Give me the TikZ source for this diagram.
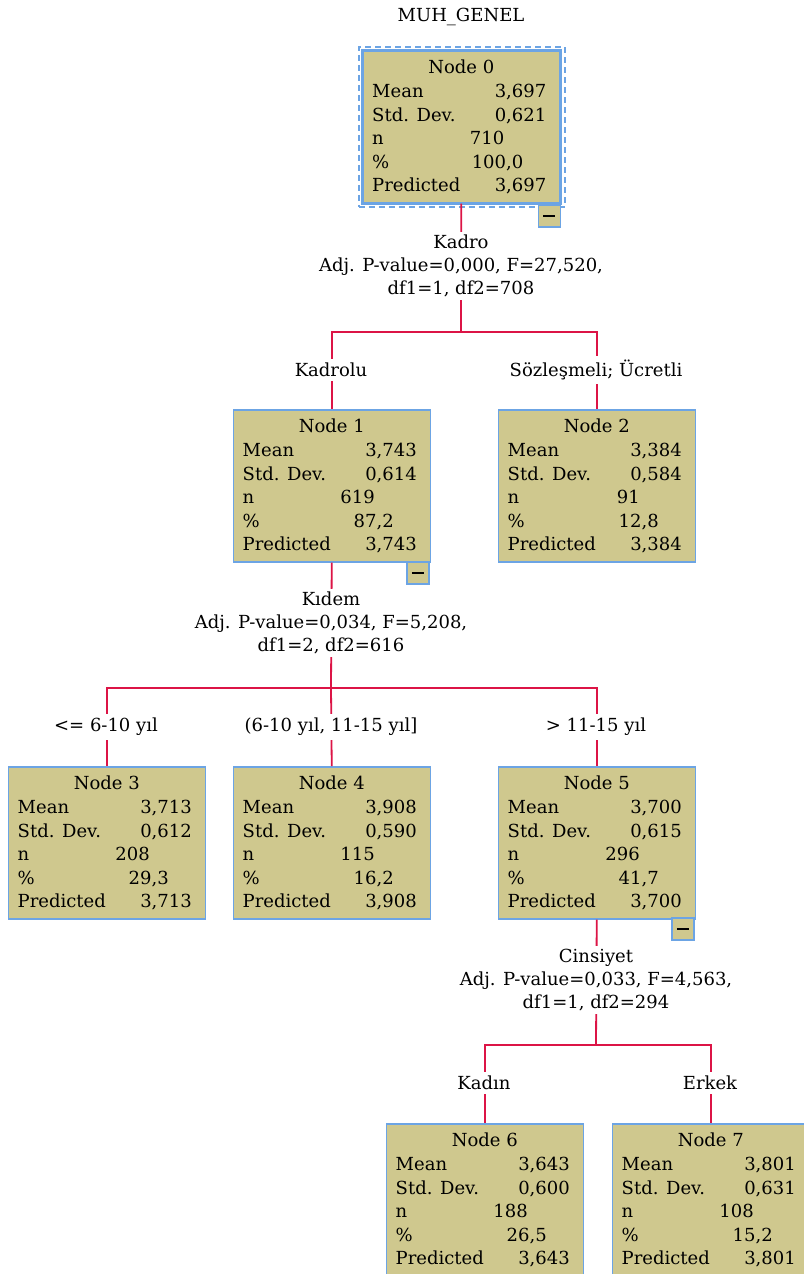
\documentclass[tikz,border=0pt]{standalone}
\usepackage{fontspec}
\setmainfont{DejaVu Serif}
\usetikzlibrary{calc}
\definecolor{nodefill}{RGB}{207,200,142}
\definecolor{nodeblue}{RGB}{108,164,228}
\definecolor{connred}{RGB}{220,20,70}
\tikzset{
  txt/.style={inner sep=0pt, font=\fontsize{18}{23}\selectfont},
  nbox/.style={draw=nodeblue, fill=nodefill, line width=1.5pt, minimum width=197pt, minimum height=152pt, inner sep=0pt, anchor=north west},
  minusbox/.style={draw=nodeblue, fill=nodefill, line width=1.5pt, minimum width=22pt, minimum height=22pt, inner sep=0pt, anchor=north east},
  conn/.style={draw=connred, line width=1.8pt},
  lbl/.style={txt, fill=white, inner xsep=2pt, inner ysep=3pt, align=center},
  blbl/.style={txt, fill=white, inner xsep=2pt, inner ysep=4pt}
}
\newcommand\spssnode[9]{%
  \node[nbox] (#1) at (#2,#3) {};
  \node[txt, anchor=base] (#1t) at ($(#1.north)+(0,23)$) {#4};
  \node[txt, anchor=base west] (#1la) at ($(#1.north west)+(10,47.5)$) {Mean};
  \node[txt, anchor=base west] (#1lb) at ($(#1.north west)+(10,71)$) {Std. Dev.};
  \node[txt, anchor=base west] (#1lc) at ($(#1.north west)+(10,94.5)$) {n};
  \node[txt, anchor=base west] (#1ld) at ($(#1.north west)+(10,118)$) {\%};
  \node[txt, anchor=base west] (#1le) at ($(#1.north west)+(10,141)$) {Predicted};
  \node[txt, anchor=base east] (#1va) at ($(#1.north east)+(-14,47.5)$) {#5};
  \node[txt, anchor=base east] (#1vb) at ($(#1.north east)+(-14,71)$) {#6};
  \node[txt, anchor=base east] (#1vc) at ($(#1.north east)+(-56,94.5)$) {#7};
  \node[txt, anchor=base east] (#1vd) at ($(#1.north east)+(-37,118)$) {#8};
  \node[txt, anchor=base east] (#1ve) at ($(#1.north east)+(-14,141)$) {#9};
}
\newcommand\minusmark[2]{%
  \node[minusbox] (#1) at (#2) {};
  \draw[line width=2pt, black] ($(#1.center)+(-6,0)$) -- ($(#1.center)+(6,0)$);
}
\begin{document}
\begin{tikzpicture}[x=1pt,y=-1pt]
\useasboundingbox[fill=white] (0,0) rectangle (803,1274);

% title
\node[txt, anchor=base] (title) at (461,21) {MUH\_GENEL};

% connector junctions
\coordinate (j0) at (461,332);
\coordinate (j1) at (331,688);
\coordinate (j5) at (596,1045);

% nodes
\node[draw=nodeblue, dash pattern=on 6pt off 4pt, line width=1.5pt, minimum width=206pt, minimum height=160pt, anchor=north west] (sel) at (358,46) {};
\spssnode{n0}{362}{50}{Node 0}{3,697}{0,621}{710}{100,0}{3,697}
\draw[nodeblue, line width=3pt] (n0.north west) rectangle (n0.south east);
\spssnode{n1}{232.5}{409}{Node 1}{3,743}{0,614}{619}{87,2}{3,743}
\spssnode{n2}{497.5}{409}{Node 2}{3,384}{0,584}{91}{12,8}{3,384}
\spssnode{n3}{7.5}{766}{Node 3}{3,713}{0,612}{208}{29,3}{3,713}
\spssnode{n4}{232.5}{766}{Node 4}{3,908}{0,590}{115}{16,2}{3,908}
\spssnode{n5}{497.5}{766}{Node 5}{3,700}{0,615}{296}{41,7}{3,700}
\spssnode{n6}{385.5}{1123}{Node 6}{3,643}{0,600}{188}{26,5}{3,643}
\spssnode{n7}{611.5}{1123}{Node 7}{3,801}{0,631}{108}{15,2}{3,801}

% collapse markers
\minusmark{m0}{561,204}
\minusmark{m1}{429.5,561}
\minusmark{m5}{694.5,917}

% connectors
\draw[conn] (n0.south) -- (j0);
\draw[conn] (j0) -| (n1.north);
\draw[conn] (j0) -| (n2.north);
\draw[conn] (n1.south) -- (j1);
\draw[conn] (j1) -| (n3.north);
\draw[conn] (j1) -- (n4.north);
\draw[conn] (j1) -| (n5.north);
\draw[conn] (n5.south) -- (j5);
\draw[conn] (j5) -| (n6.north);
\draw[conn] (j5) -| (n7.north);

% split labels
\node[lbl] (s0) at (461,266) {Kadro\\Adj. P-value=0,000, F=27,520,\\df1=1, df2=708};
\node[lbl] (s1) at (331,623) {Kıdem\\Adj. P-value=0,034, F=5,208,\\df1=2, df2=616};
\node[lbl] (s5) at (596,980) {Cinsiyet\\Adj. P-value=0,033, F=4,563,\\df1=1, df2=294};

% branch labels
\node[blbl] (b1) at (331,370) {Kadrolu};
\node[blbl] (b2) at (596,370) {Sözleşmeli; Ücretli};
\node[blbl] (b3) at (106,727) {<= 6-10 yıl};
\node[blbl] (b4) at (331,727) {(6-10 yıl, 11-15 yıl]};
\node[blbl] (b5) at (596,727) {> 11-15 yıl};
\node[blbl] (b6) at (484,1083) {Kadın};
\node[blbl] (b7) at (710,1083) {Erkek};
\end{tikzpicture}
\end{document}
